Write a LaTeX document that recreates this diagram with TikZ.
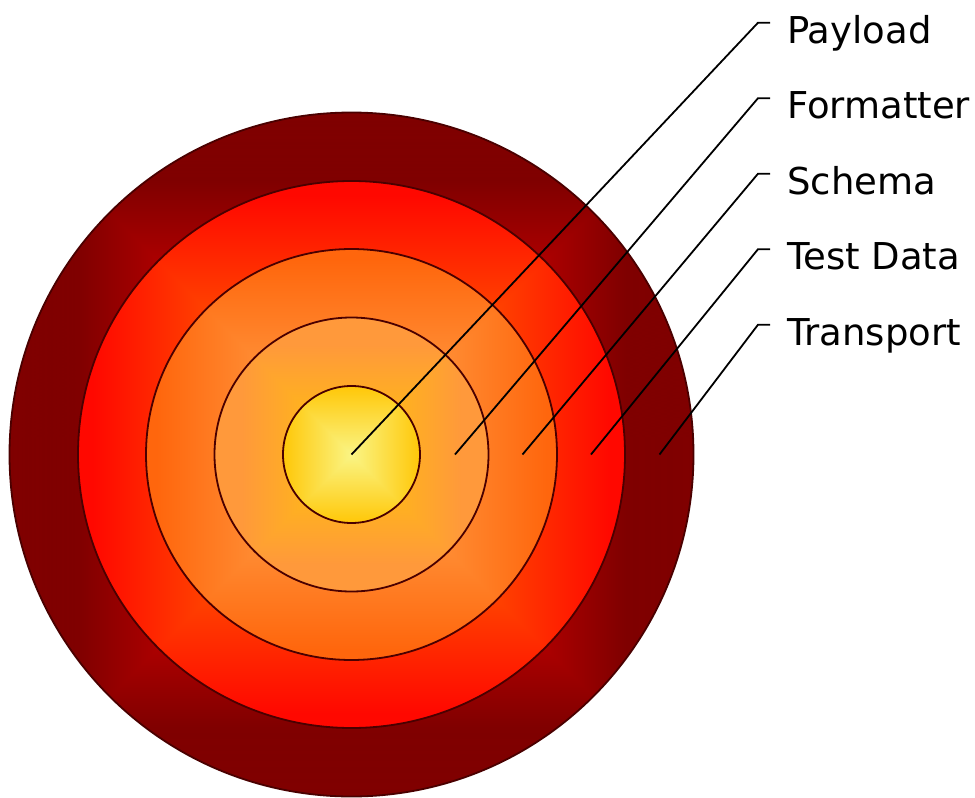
\documentclass[tikz,border=0pt]{standalone}
\usepackage{fontspec}
\setmainfont{DejaVu Sans}
% square ("rectangular") gradient: colour depends on max(|x|,|y|)
\newcommand\sqshade[9]{%
\pgfdeclarefunctionalshading{#1}{\pgfpoint{-50bp}{-50bp}}{\pgfpoint{50bp}{50bp}}{}{%
abs exch abs 2 copy sub abs add add 50 div
#2 sub dup abs add 2 div
dup #3 sub abs neg exch #3 add add 2 div #3 div
dup #7 #4 sub mul #4 add exch
dup #8 #5 sub mul #5 add exch
#9 #6 sub mul #6 add
}}
\sqshade{sqE}{0.50}{0.30}{0.72}{0.00}{0.00}{0.50}{0.00}{0.00}
\sqshade{sqD}{0.50}{0.45}{1.00}{0.27}{0.00}{1.00}{0.03}{0.00}
\sqshade{sqC}{0.45}{0.50}{1.00}{0.55}{0.20}{1.00}{0.40}{0.05}
\sqshade{sqB}{0.33}{0.47}{1.00}{0.70}{0.12}{1.00}{0.60}{0.23}
\sqshade{sqA}{0.00}{1.00}{0.98}{0.96}{0.52}{1.00}{0.78}{0.03}
\definecolor{ringline}{HTML}{4A0000}
\begin{document}
\begin{tikzpicture}[x=1pt,y=-1pt,
  ring/.style={circle,inner sep=0pt,outer sep=0pt,draw=ringline,line width=1.8pt},
  leader/.style={draw=black,line width=1.8pt},
  lab/.style={anchor=base west,inner sep=0pt,font=\fontsize{37}{40}\selectfont}]
\useasboundingbox (0,0) rectangle (975,798);
\coordinate (C) at (351.5,454.5);
\node[ring,minimum size=684pt,shading=sqE] (r5) at (C) {};
\node[ring,minimum size=547pt,shading=sqD] (r4) at (C) {};
\node[ring,minimum size=411pt,shading=sqC] (r3) at (C) {};
\node[ring,minimum size=274pt,shading=sqB] (r2) at (C) {};
\node[ring,minimum size=137pt,shading=sqA] (r1) at (C) {};
% leader start points
\coordinate (p1) at (351.5,454.5);
\coordinate (p2) at (455,454.5);
\coordinate (p3) at (522.5,454.5);
\coordinate (p4) at (591,454.5);
\coordinate (p5) at (659.5,454.5);
% bends and ends
\foreach \i/\y in {1/22.7,2/98.2,3/173.7,4/249.2,5/324.7}{
  \coordinate (b\i) at (758,\y);
  \coordinate (e\i) at (770,\y);
}
\node[lab] (l1) at (787,43.2) {Payload};
\node[lab] (l2) at (787,118.7) {Formatter};
\node[lab] (l3) at (787,194.2) {Schema};
\node[lab] (l4) at (787,269.7) {Test Data};
\node[lab] (l5) at (787,345.2) {Transport};
\foreach \i in {1,...,5}{
  \draw[leader] (p\i) -- (b\i) -- (e\i);
}
\end{tikzpicture}
\end{document}
